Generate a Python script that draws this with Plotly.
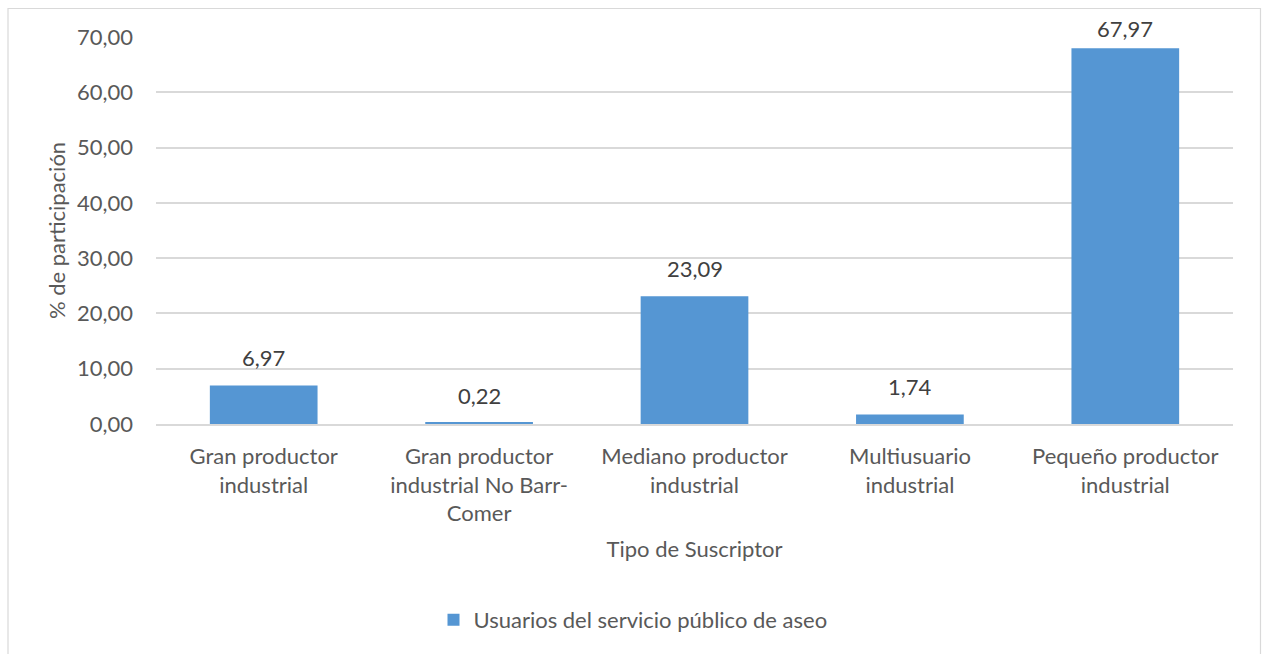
import plotly.graph_objects as go

# Subscriber types and their share of users (%)
categorias = [
    "Gran productor<br>industrial",
    "Gran productor<br>industrial No Barr-<br>Comer",
    "Mediano productor<br>industrial",
    "Multiusuario<br>industrial",
    "Pequeño productor<br>industrial",
]
participacion = [6.97, 0.22, 23.09, 1.74, 67.97]
serie = "Usuarios del servicio público de aseo"
ticks_y = [0, 10, 20, 30, 40, 50, 60, 70]

FONT = "Lato"
GRIS = "#595959"
Y_MAX = 70

fig = go.Figure()
fig.add_trace(go.Bar(
    x=categorias,
    y=participacion,
    name=serie,
    marker=dict(color="#5596D3", line=dict(width=0)),
    width=0.5,
    showlegend=True,
))

# value labels above each bar (kept inside the frame near the top)
for c, v in zip(categorias, participacion):
    shift = 12 if v < Y_MAX * 0.9 else 4
    fig.add_annotation(
        x=c, y=v, text=f"{v:.2f}".replace(".", ","),
        showarrow=False, yanchor="bottom", yshift=shift,
        font=dict(family=FONT, size=22, color="#404040"),
    )

# outer chart frame
L, R, T, B = 156, 29, 37, 230
W, H = 1262, 654
pw, ph = W - L - R, H - T - B
fig.add_shape(
    type="rect", xref="paper", yref="paper",
    x0=(8 - L) / pw, x1=(1260.5 - L) / pw,
    y0=(H - B - 700) / ph, y1=(H - B - 8.5) / ph,
    line=dict(color="#D9D9D9", width=1.2), fillcolor="rgba(0,0,0,0)",
    layer="below",
)

fig.update_layout(
    width=W, height=H,
    margin=dict(l=L, r=R, t=T, b=B, pad=0),
    paper_bgcolor="white", plot_bgcolor="white",
    separators=",.",
    font=dict(family=FONT, size=22, color=GRIS),
    bargap=0.5,
    showlegend=True,
    legend=dict(
        orientation="h", x=(633 - L) / pw, xanchor="center",
        y=(H - B - 620) / ph, yanchor="middle",
        font=dict(family=FONT, size=22, color=GRIS),
        itemwidth=30,
    ),
    xaxis=dict(
        title=dict(text="Tipo de Suscriptor", font=dict(family=FONT, size=22, color=GRIS), standoff=16),
        showline=True, linecolor="#D9D9D9", linewidth=1.5,
        ticks="", showgrid=False,
        tickfont=dict(family=FONT, size=22, color=GRIS),
        ticklabelstandoff=12,
    ),
    yaxis=dict(
        title=dict(text="% de participación", font=dict(family=FONT, size=22, color=GRIS), standoff=5),
        range=[0, Y_MAX], tickvals=ticks_y, tickformat=".2f",
        showgrid=True, gridcolor="#D9D9D9", gridwidth=1.5,
        zeroline=False, showline=False, ticks="",
        tickfont=dict(family=FONT, size=22, color=GRIS),
        ticklabelstandoff=22,
    ),
)

fig.write_html("out.html")
